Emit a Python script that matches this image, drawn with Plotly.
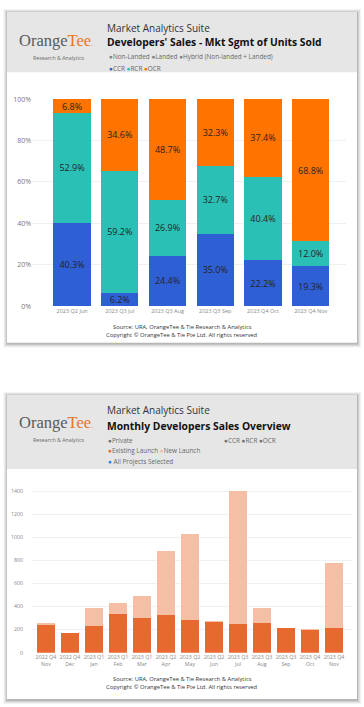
import plotly.graph_objects as go

W, H = 364, 707

# ---------------- data ----------------
seg_months = ["2023 Q2 Jun", "2023 Q3 Jul", "2023 Q3 Aug", "2023 Q3 Sep", "2023 Q4 Oct", "2023 Q4 Nov"]
ccr = [40.3, 6.2, 24.4, 35.0, 22.2, 19.3]
rcr = [52.9, 59.2, 26.9, 32.7, 40.4, 12.0]
ocr = [6.8, 34.6, 48.7, 32.3, 37.4, 68.8]
pct_ticks = [0, 20, 40, 60, 80, 100]

dev_quarters = ["2022 Q4", "2022 Q4", "2023 Q1", "2023 Q1", "2023 Q1", "2023 Q2", "2023 Q2",
                "2023 Q2", "2023 Q3", "2023 Q3", "2023 Q3", "2023 Q4", "2023 Q4"]
dev_months = ["Nov", "Dec", "Jan", "Feb", "Mar", "Apr", "May", "Jun", "Jul", "Aug", "Sep", "Oct", "Nov"]
existing_launch = [248, 169, 231, 334, 303, 326, 286, 271, 249, 260, 211, 203, 211]
new_launch = [10, 0, 160, 97, 186, 560, 748, 3, 1157, 131, 0, 2, 569]
unit_ticks = [0, 200, 400, 600, 800, 1000, 1200, 1400]

# colours
C_CCR, C_RCR, C_OCR = "#2F5FD5", "#2BC0B6", "#FF7300"
C_EXIST, C_NEW = "#E8692F", "#F4BFA5"

FONT = "Open Sans"


def px(x):
    return x / W


def py(y):
    return 1 - y / H


fig = go.Figure()

# ---------------- chart 1 ----------------
cat1 = list(range(len(seg_months)))
for name, vals, col in [("CCR", ccr, C_CCR), ("RCR", rcr, C_RCR), ("OCR", ocr, C_OCR)]:
    fig.add_trace(go.Bar(
        x=cat1, y=vals, name=name, marker=dict(color=col, line=dict(width=0)),
        text=[f"{v:.1f}%" for v in vals], textposition="inside", insidetextanchor="middle",
        textfont=dict(family=FONT, size=9, color="#252423"), constraintext="none",
        xaxis="x", yaxis="y", showlegend=False,
    ))

# ---------------- chart 2 ----------------
cat2 = list(range(len(dev_months)))
fig.add_trace(go.Bar(x=cat2, y=existing_launch, name="Existing Launch",
                     marker=dict(color=C_EXIST, line=dict(width=0)),
                     xaxis="x2", yaxis="y2", showlegend=False, textposition="none"))
fig.add_trace(go.Bar(x=cat2, y=new_launch, name="New Launch",
                     marker=dict(color=C_NEW, line=dict(width=0)),
                     xaxis="x2", yaxis="y2", showlegend=False, textposition="none"))

shapes = []


def card(x0, y0, x1, y1, head_bottom):
    # soft shadow
    for i, a in enumerate([0.05, 0.06, 0.08, 0.12]):
        d = 4 - i
        shapes.append(dict(type="rect", xref="paper", yref="paper",
                           x0=px(x0 - d + 0.5), x1=px(x1 + d), y0=py(y1 + d + 1), y1=py(y0 - d + 1),
                           fillcolor=f"rgba(0,0,0,{a})", line=dict(width=0), layer="below"))
    shapes.append(dict(type="rect", xref="paper", yref="paper",
                       x0=px(x0), x1=px(x1), y0=py(y1), y1=py(y0),
                       fillcolor="white", line=dict(width=0), layer="below"))
    shapes.append(dict(type="rect", xref="paper", yref="paper",
                       x0=px(x0), x1=px(x1), y0=py(head_bottom), y1=py(y0),
                       fillcolor="#E6E6E6", line=dict(width=0), layer="below"))


card(7, 7, 357, 342, 68)
card(7, 395, 357, 703, 470)

ann = []


def text(x, y, s, size, color="#333", anchor="left", family=FONT):
    ann.append(dict(xref="paper", yref="paper", x=px(x), y=py(y), text=s, showarrow=False,
                    xanchor=anchor, yanchor="middle", font=dict(family=family, size=size, color=color)))


def logo(y):
    text(17, y, "Orange<span style='color:#E87722'>Tee</span><span style='color:#E87722;font-size:7px'>.</span>",
         16.5, "#5A5A5A", family="Liberation Serif")
    text(59, y + 18, "Research &amp; Analytics", 5.3, "#666", anchor="center")


# header 1
logo(36)
text(105, 23, "Market Analytics Suite", 10, "#333")
text(105, 37, "<b>Developers' Sales - Mkt Sgmt of Units Sold</b>", 10.3, "#111")
text(107, 52, "<span style='color:#808080'>●</span>Non-Landed <span style='color:#808080'>●</span>Landed "
               "<span style='color:#808080'>●</span>Hybrid (Non-landed + Landed)", 6.4, "#666")
text(107, 64, f"<span style='color:{C_CCR}'>●</span>CCR <span style='color:{C_RCR}'>●</span>RCR "
               f"<span style='color:{C_OCR}'>●</span>OCR", 6.4, "#666")

# header 2
logo(423)
text(105, 410, "Market Analytics Suite", 10, "#333")
text(105, 426, "<b>Monthly Developers Sales Overview</b>", 10.3, "#111")
text(106, 441, "<span style='color:#707070'>●</span>Private", 6.4, "#666")
text(222, 441, "<span style='color:#707070'>●</span>CCR <span style='color:#707070'>●</span>RCR "
               "<span style='color:#707070'>●</span>OCR", 6.4, "#666")
text(106, 451, f"<span style='color:{C_EXIST}'>●</span>Existing Launch "
               f"<span style='color:{C_NEW}'>●</span>New Launch", 6.4, "#666")
text(106, 462, "<span style='color:#1E88E5'>●</span> All Projects Selected", 6.4, "#666")

# footers
for y0 in (326, 683):
    text(182, y0, "Source: URA, OrangeTee &amp; Tie Research &amp; Analytics", 5.8, "#333", anchor="center")
    text(182, y0 + 8, "Copyright © OrangeTee &amp; Tie Pte Ltd. All rights reserved", 5.8, "#333", anchor="center")

fig.update_layout(
    width=W, height=H, margin=dict(l=0, r=0, t=0, b=0),
    paper_bgcolor="white", plot_bgcolor="rgba(0,0,0,0)",
    barmode="stack", bargap=0.22,
    uniformtext=dict(minsize=9, mode="show"),
    shapes=shapes, annotations=ann,
    font=dict(family=FONT),
    xaxis=dict(domain=[px(32), px(346)], range=[-0.84, 5.74], tickmode="array", tickvals=cat1,
               ticktext=seg_months, tickfont=dict(size=5.5, color="#888"), showgrid=False,
               zeroline=False, showline=False, ticks="", anchor="y", fixedrange=True),
    yaxis=dict(domain=[py(305), py(95.3)], range=[0, 100], tickmode="array", tickvals=pct_ticks,
               ticktext=[f"{t}%" for t in pct_ticks],
               tickfont=dict(size=7, color="#777"), showgrid=True, gridcolor="#F0F0F0",
               zeroline=False, showline=False, ticks="", anchor="x", fixedrange=True),
    xaxis2=dict(domain=[px(32), px(352)], range=[-0.58, 12.75], tickmode="array", tickvals=cat2,
                ticktext=[f"{q}<br>{m}" for q, m in zip(dev_quarters, dev_months)],
                tickfont=dict(size=5.3, color="#888"), showgrid=False, zeroline=False,
                showline=False, ticks="", anchor="y2", fixedrange=True),
    yaxis2=dict(domain=[py(656), py(484)], range=[0, 1475], tickmode="array", tickvals=unit_ticks,
                tickfont=dict(size=5.3, color="#888"), showgrid=True, gridcolor="#F0F0F0",
                ticklabelstandoff=8,
                zeroline=False, showline=False, ticks="", anchor="x2", fixedrange=True),
)

fig.write_html("out.html", config={"displayModeBar": False},
               post_script="document.body.style.margin='0px';document.body.style.overflow='hidden';")
